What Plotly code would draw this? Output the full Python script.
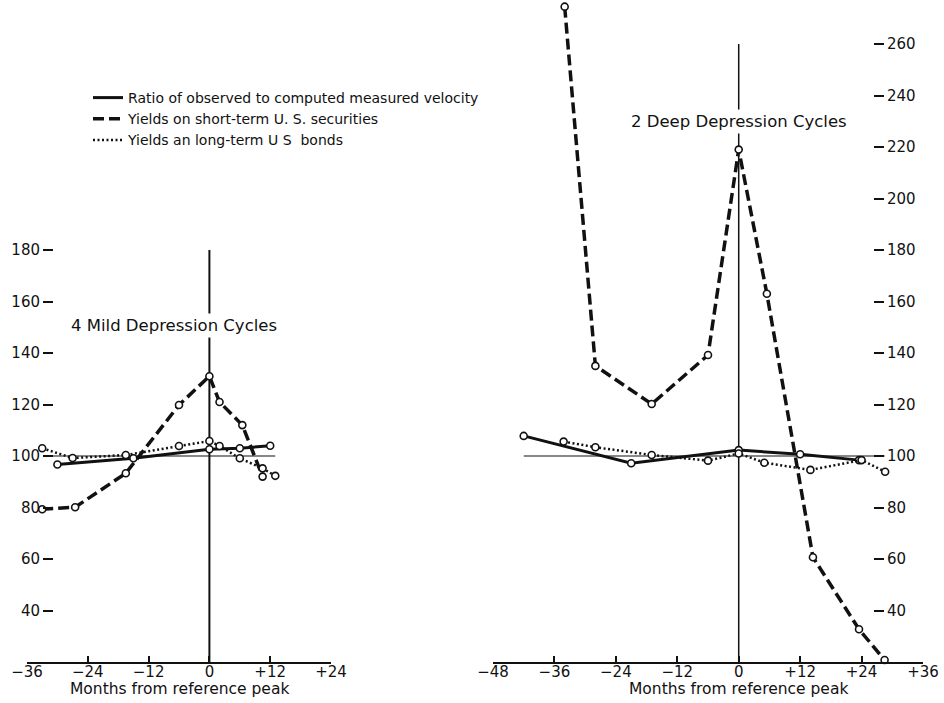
import plotly.graph_objects as go

# ---------------- data ----------------
# Left panel: 4 mild depression cycles
ratio_left_x = [-30, -15, 0, 6, 12]
ratio_left_y = [96.7, 99.1, 102.6, 103.0, 104.0]
short_left_x = [-33, -26.5, -16.5, -6, 0, 2, 6.5, 10.5]
short_left_y = [79.3, 80.1, 93.3, 119.8, 131.0, 121.0, 112.0, 92.0]
long_left_x = [-33, -27, -16.5, -6, 0, 2, 6, 10.5, 13]
long_left_y = [103.0, 99.2, 100.4, 103.9, 105.8, 103.9, 99.1, 95.2, 92.3]

# Right panel: 2 deep depression cycles
ratio_right_x = [-42, -21, 0, 12, 23.5]
ratio_right_y = [107.8, 97.2, 102.3, 100.7, 98.4]
short_right_x = [-34, -28, -17, -6, 0, 5.5, 14.5, 23.5, 28.5]
short_right_y = [274.5, 135.0, 120.2, 139.2, 219.0, 163.0, 60.7, 32.7, 20.8]
long_right_x = [-34.2, -28, -17, -6, 0, 5, 14, 24, 28.6]
long_right_y = [105.6, 103.4, 100.4, 98.2, 101.0, 97.4, 94.6, 98.4, 93.9]

series_names = ["Ratio of observed to computed measured velocity",
                "Yields on short-term U. S. securities",
                "Yields an long-term U S  bonds"]

left_xticks = [-36, -24, -12, 0, 12, 24]
left_xticktext = ["\u221236", "\u221224", "\u221212", "0", "+12", "+24"]
right_xticks = [-48, -36, -24, -12, 0, 12, 24, 36]
right_xticktext = ["\u221248", "\u221236", "\u221224", "\u221212", "0", "+12", "+24", "+36"]
left_yticks = [40, 60, 80, 100, 120, 140, 160, 180]
right_yticks = [40, 60, 80, 100, 120, 140, 160, 180, 200, 220, 240, 260]

# reference lines (base 100 and reference peak)
base_left = [-32.5, 13]
base_right = [-42, 28.5]
peak_left = [20, 180]
peak_right = [20, 260]

left_title = "4 Mild Depression Cycles"
right_title = "2 Deep Depression Cycles"
xlabel = "Months from reference peak"

# ---------------- figure ----------------
W, H = 944, 703
FONT = "DejaVu Sans"
BLACK = "#111111"

styles = [
    dict(color=BLACK, width=3),
    dict(color=BLACK, width=3.5, dash="11px,5px"),
    dict(color=BLACK, width=2.5, dash="2px,2.5px"),
]
marker = dict(symbol="circle", size=7, color="white",
              line=dict(color=BLACK, width=1.6))

fig = go.Figure()

panels = [
    ("x", "y", [(ratio_left_x, ratio_left_y), (short_left_x, short_left_y), (long_left_x, long_left_y)]),
    ("x2", "y2", [(ratio_right_x, ratio_right_y), (short_right_x, short_right_y), (long_right_x, long_right_y)]),
]
for xa, ya, data in panels:
    for (xs, ys), st, nm in zip(data, styles, series_names):
        fig.add_trace(go.Scatter(x=xs, y=ys, mode="lines+markers", line=st,
                                 marker=marker, name=nm, showlegend=False,
                                 xaxis=xa, yaxis=ya, cliponaxis=False))

# legend-only entries (lines without markers)
for st, nm in zip(styles, series_names):
    fig.add_trace(go.Scatter(x=[None], y=[None], mode="lines", line=st,
                             name=nm, showlegend=True, xaxis="x", yaxis="y"))

# reference lines
fig.add_shape(type="line", xref="x", yref="y", x0=base_left[0], x1=base_left[1],
              y0=100, y1=100, line=dict(color=BLACK, width=1.2), layer="below")
fig.add_shape(type="line", xref="x2", yref="y2", x0=base_right[0], x1=base_right[1],
              y0=100, y1=100, line=dict(color=BLACK, width=1.2), layer="below")
fig.add_shape(type="line", xref="x", yref="y", x0=0, x1=0,
              y0=peak_left[0], y1=peak_left[1], line=dict(color=BLACK, width=2), layer="below")
fig.add_shape(type="line", xref="x2", yref="y2", x0=0, x1=0,
              y0=peak_right[0], y1=peak_right[1], line=dict(color=BLACK, width=1.5), layer="below")

# panel titles (white background hides the peak line behind them)
fig.add_annotation(text=left_title, xref="x", yref="y", x=-7, y=150.5,
                   showarrow=False, bgcolor="white", borderpad=2,
                   font=dict(family=FONT, size=16.5, color=BLACK))
fig.add_annotation(text=right_title, xref="x2", yref="y2", x=0, y=229.8,
                   showarrow=False, bgcolor="white", borderpad=2,
                   font=dict(family=FONT, size=16.5, color=BLACK))

# x-axis titles
fig.add_annotation(text=xlabel, xref="x", yref="paper", x=-6, y=1 - 689 / H,
                   yanchor="middle", showarrow=False,
                   font=dict(family=FONT, size=15.5, color=BLACK))
fig.add_annotation(text=xlabel, xref="x2", yref="paper", x=0, y=1 - 689 / H,
                   yanchor="middle", showarrow=False,
                   font=dict(family=FONT, size=15.5, color=BLACK))

ydom = [41 / H, 1]
yrange = [20, 277.09]

xaxis_common = dict(showgrid=False, zeroline=False, showline=True, linecolor=BLACK,
                    linewidth=2, ticks="inside", ticklen=6, tickwidth=1.5,
                    tickcolor=BLACK, tickfont=dict(family=FONT, size=15, color=BLACK),
                    fixedrange=True, automargin=False, ticklabelstandoff=-5)
yaxis_common = dict(showgrid=False, zeroline=False, showline=False, range=yrange,
                    domain=ydom, ticks="outside", ticklen=10, tickwidth=1.8,
                    tickcolor=BLACK, tickfont=dict(family=FONT, size=15, color=BLACK),
                    anchor="free", fixedrange=True, automargin=False)

fig.update_layout(
    width=W, height=H,
    margin=dict(l=0, r=0, t=0, b=0, autoexpand=False),
    paper_bgcolor="white", plot_bgcolor="white",
    font=dict(family=FONT, color=BLACK),
    xaxis=dict(domain=[27 / W, 331 / W], range=[-36, 24], anchor="y",
               tickvals=left_xticks, ticktext=left_xticktext, **xaxis_common),
    xaxis2=dict(domain=[493 / W, 923 / W], range=[-48, 36], anchor="y2",
                tickvals=right_xticks, ticktext=right_xticktext, **xaxis_common),
    yaxis=dict(position=53 / W, side="left", tickvals=left_yticks, **yaxis_common),
    yaxis2=dict(position=873 / W, side="right", tickvals=right_yticks, **yaxis_common),
    legend=dict(x=88 / W, y=1 - 82 / H, xanchor="left", yanchor="top",
                bgcolor="rgba(0,0,0,0)", font=dict(family=FONT, size=14, color=BLACK),
                tracegroupgap=0, itemwidth=30),
    showlegend=True,
)

fig.write_html("out.html", config={"displayModeBar": False},
               post_script="document.body.style.margin='0px';document.body.style.overflow='hidden';")
